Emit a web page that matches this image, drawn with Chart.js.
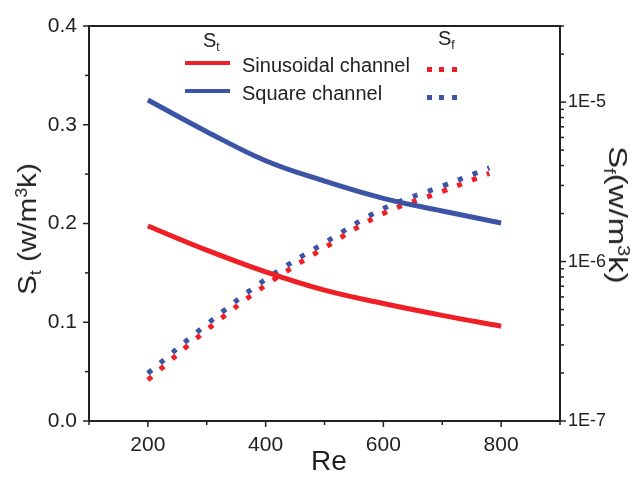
<!DOCTYPE html>
<html>
<head>
<meta charset="utf-8">
<script src="https://cdn.jsdelivr.net/npm/chart.js@4.4.0/dist/chart.umd.min.js"></script>
<style>
  body { margin: 0; background: #fff; font-family: "Liberation Sans", Arial, sans-serif; color: #222; }
  #quadro { position: relative; width: 639px; height: 480px; }
  .txt { position: absolute; white-space: nowrap; line-height: 1; }
  .sub { font-size: 0.6em; position: relative; top: 0.35em; }
  .sup { font-size: 0.6em; position: relative; top: -0.55em; }
  .amostra { position: absolute; height: 4px; width: 45px; }
  .ponto { position: absolute; width: 5px; height: 5px; }
</style>
</head>
<body>
<div id="quadro">
  <canvas id="grafico" width="639" height="480"></canvas>

  <!-- títulos dos eixos -->
  <div class="txt" style="font-size:28px; left:311px; top:447px;">Re</div>
  <div class="txt" id="tituloEsq" style="font-size:26px; left:27px; top:229px; transform:translate(-50%,-50%) rotate(-90deg) scaleX(1.14);">S<span class="sub">t</span> (w/m<span class="sup">3</span>k)</div>
  <div class="txt" id="tituloDir" style="font-size:26px; left:618px; top:215px; transform:translate(-50%,-50%) rotate(90deg) scaleX(1.27);">S<span class="sub">f</span>(w/m<span class="sup">3</span>k)</div>

  <!-- legenda -->
  <div class="txt" style="font-size:20px; left:203px; top:30px;">S<span class="sub">t</span></div>
  <div class="txt" style="font-size:20px; left:438px; top:28px;">S<span class="sub">f</span></div>
  <div class="amostra" style="left:185px; top:61px; background:#ee2026;"></div>
  <div class="amostra" style="left:185px; top:89px; background:#3b54a5;"></div>
  <div class="txt" style="font-size:20px; left:242px; top:55px;">Sinusoidal channel</div>
  <div class="txt" style="font-size:20px; left:242px; top:83px;">Square channel</div>
  <div class="ponto" style="left:427px; top:67px; background:#ee2026;"></div>
  <div class="ponto" style="left:439px; top:67px; background:#ee2026;"></div>
  <div class="ponto" style="left:452px; top:67px; background:#ee2026;"></div>
  <div class="ponto" style="left:427px; top:95px; background:#3b54a5;"></div>
  <div class="ponto" style="left:439px; top:95px; background:#3b54a5;"></div>
  <div class="ponto" style="left:452px; top:95px; background:#3b54a5;"></div>
</div>

<script>
// Dados
const reSolido = [200, 300, 400, 500, 600, 700, 800];
const stSenoidal = [0.1975, 0.173, 0.151, 0.1325, 0.119, 0.107, 0.096];
const stQuadrado = [0.325, 0.293, 0.2636, 0.243, 0.2255, 0.2127, 0.2005];

const rePontilhado = [200, 300, 400, 500, 600, 700, 780];
const sfSenoidal = [1.81e-7, 3.72e-7, 7.1e-7, 1.22e-6, 2.0e-6, 2.75e-6, 3.57e-6];
const sfQuadrado = [1.99e-7, 4.04e-7, 7.73e-7, 1.31e-6, 2.15e-6, 2.97e-6, 3.87e-6];

// Marcas dos eixos
const xRotulos = [200, 400, 600, 800];
const xMenores = [100, 300, 500, 700, 900];
const yRotulos = [0, 0.1, 0.2, 0.3, 0.4];
const yMenores = [0.05, 0.15, 0.25, 0.35];
const y2Rotulos = [1e-7, 1e-6, 1e-5];
const y2Menores = [2e-7, 3e-7, 4e-7, 5e-7, 6e-7, 7e-7, 8e-7, 9e-7,
                   2e-6, 3e-6, 4e-6, 5e-6, 6e-6, 7e-6, 8e-6, 9e-6, 2e-5, 3e-5];

const vermelho = '#ee2026';
const azul = '#3b54a5';
const corEixo = '#222';

const pares = (xs, ys) => xs.map((x, i) => ({ x: x, y: ys[i] }));

// Plugin que desenha a moldura e os traços das escalas
const molduraPlugin = {
    id: 'moldura',
    afterDraw(chart) {
        const { ctx, chartArea: a, scales } = chart;
        ctx.save();
        ctx.strokeStyle = corEixo;
        ctx.lineWidth = 2;
        ctx.strokeRect(a.left, a.top, a.right - a.left, a.bottom - a.top);

        ctx.lineWidth = 1.5;
        const traco = (x1, y1, x2, y2) => {
            ctx.beginPath(); ctx.moveTo(x1, y1); ctx.lineTo(x2, y2); ctx.stroke();
        };
        xRotulos.forEach(v => { const x = scales.x.getPixelForValue(v); traco(x, a.bottom, x, a.bottom + 6); });
        xMenores.forEach(v => { const x = scales.x.getPixelForValue(v); traco(x, a.bottom, x, a.bottom + 4); });
        yRotulos.forEach(v => { const y = scales.y.getPixelForValue(v); traco(a.left, y, a.left - 6, y); });
        yMenores.forEach(v => { const y = scales.y.getPixelForValue(v); traco(a.left, y, a.left - 4, y); });
        y2Rotulos.forEach(v => { const y = scales.y2.getPixelForValue(v); traco(a.right, y, a.right + 6, y); });
        y2Menores.forEach(v => { const y = scales.y2.getPixelForValue(v); traco(a.right, y, a.right + 4, y); });
        ctx.restore();
    }
};

const fonteTicks = { family: '"Liberation Sans", Arial, sans-serif', size: 21 };

const ctx = document.getElementById('grafico').getContext('2d');
const meuGrafico = new Chart(ctx, {
    type: 'line',
    data: {
        datasets: [
            { label: 'St senoidal', data: pares(reSolido, stSenoidal), yAxisID: 'y',
              borderColor: vermelho, borderWidth: 5, tension: 0.4 },
            { label: 'St quadrado', data: pares(reSolido, stQuadrado), yAxisID: 'y',
              borderColor: azul, borderWidth: 5, tension: 0.4 },
            { label: 'Sf senoidal', data: pares(rePontilhado, sfSenoidal), yAxisID: 'y2',
              borderColor: vermelho, borderWidth: 5, borderDash: [5, 11], tension: 0.4 },
            { label: 'Sf quadrado', data: pares(rePontilhado, sfQuadrado), yAxisID: 'y2',
              borderColor: azul, borderWidth: 5, borderDash: [5, 11], tension: 0.4 }
        ]
    },
    options: {
        responsive: false,
        animation: false,
        elements: { point: { radius: 0 } },
        layout: { padding: { top: 26, left: 0, right: 0, bottom: 0 } },
        plugins: { legend: { display: false }, tooltip: { enabled: false } },
        scales: {
            x: {
                type: 'linear', min: 100, max: 900,
                grid: { drawOnChartArea: false, drawTicks: false },
                border: { color: corEixo, width: 2 },
                afterBuildTicks: s => { s.ticks = xRotulos.map(v => ({ value: v })); },
                afterFit: s => { s.height = 59; },
                ticks: { font: fonteTicks, color: corEixo, padding: 12, maxRotation: 0 }
            },
            y: {
                type: 'linear', position: 'left', min: 0, max: 0.4,
                grid: { drawOnChartArea: false, drawTicks: false },
                border: { color: corEixo, width: 2 },
                afterBuildTicks: s => { s.ticks = yRotulos.map(v => ({ value: v })); },
                afterFit: s => { s.width = 89; },
                ticks: { font: fonteTicks, color: corEixo, padding: 12,
                         callback: v => v.toFixed(1) }
            },
            y2: {
                type: 'logarithmic', position: 'right', min: 1e-7, max: 3e-5,
                grid: { drawOnChartArea: false, drawTicks: false },
                border: { color: corEixo, width: 2 },
                afterBuildTicks: s => { s.ticks = y2Rotulos.map(v => ({ value: v })); },
                afterFit: s => { s.width = 79; },
                ticks: { font: { family: fonteTicks.family, size: 18 }, color: corEixo, padding: 8,
                         callback: v => '1E' + Math.round(Math.log10(v)) }
            }
        }
    },
    plugins: [molduraPlugin]
});
</script>
</body>
</html>
